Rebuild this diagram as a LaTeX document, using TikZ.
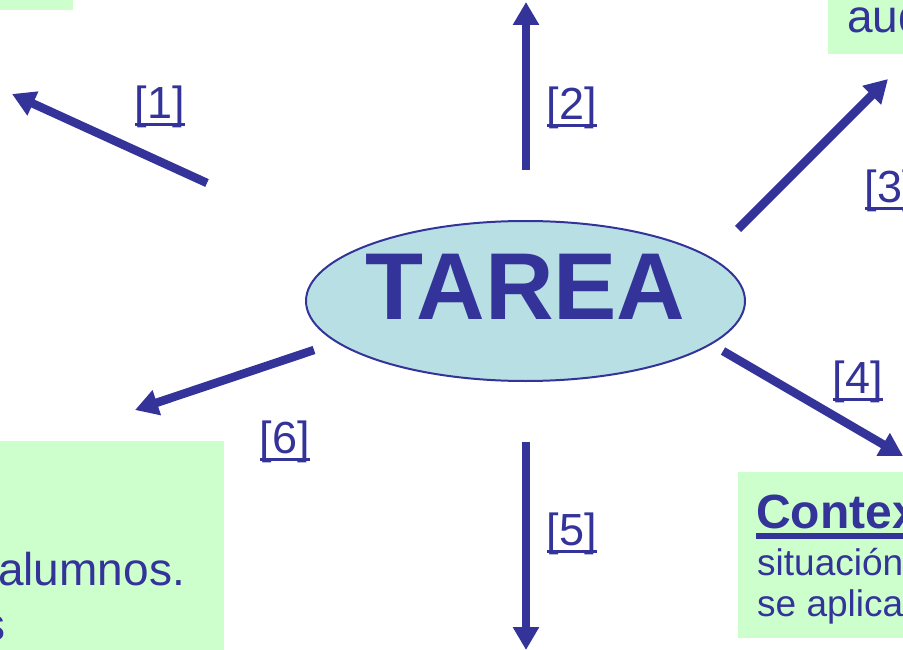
\documentclass[tikz,border=0pt]{standalone}
\usepackage{fontspec}
\setmainfont{Liberation Sans}
\usepackage{tikz}
\usetikzlibrary{shapes.geometric,arrows.meta,positioning}
\definecolor{tblue}{RGB}{51,51,153}
\definecolor{tcyan}{RGB}{184,224,228}
\definecolor{tgreen}{RGB}{204,255,204}
\newcommand{\lblul}[3]{\setbox0\hbox{#1}\rlap{\rule[-#2]{\wd0}{#3}}\box0}
\begin{document}
\begin{tikzpicture}[x=1pt, y=-1pt, arr/.style={tblue, line width=8.5pt, -{Triangle[width=25pt,length=23pt]}}, lbl/.style={anchor=base, text=tblue, inner sep=0pt, font=\fontsize{45}{54}\selectfont}, txt/.style={anchor=base west, text=tblue, inner sep=0pt}]
\clip (0,0) rectangle (903,650);
\fill[tgreen] (0,0) rectangle (73,10);
\fill[tgreen] (828,0) rectangle (903,54);
\fill[tgreen] (0,441) rectangle (224,650);
\fill[tgreen] (738,472) rectangle (903,638);
\node[txt, font=\fontsize{46}{55}\selectfont] (aud) at (847,33) {aud};
\node[txt, font=\fontsize{46}{55}\selectfont] (alum) at (-2,585) {alumnos.};
\node[anchor=base east, text=tblue, inner sep=0pt, font=\fontsize{46}{55}\selectfont] (alum2) at (6,640) {s};
\node[txt, font=\bfseries\fontsize{48}{56}\selectfont] (ctx) at (756,528) {\lblul{Contex}{11pt}{6pt}};
\node[txt, font=\fontsize{37}{41}\selectfont] (sit) at (757,575) {situación};
\node[txt, font=\fontsize{37}{41}\selectfont] (apl) at (757,616) {se aplica};
\node[ellipse, draw=tblue, line width=2pt, fill=tcyan, minimum width=439pt, minimum height=160pt, inner sep=0pt] (tarea) at (525.5,301) {};
\node[anchor=base, text=tblue, inner sep=0pt, font=\bfseries\fontsize{95}{110}\selectfont] (tareatxt) at (525.5,319) {TAREA};
\coordinate (s1) at (207,183); \coordinate (e1) at (12,94);
\coordinate (s2) at (526,170); \coordinate (e2) at (526,2);
\coordinate (s3) at (738,229); \coordinate (e3) at (888,79);
\coordinate (s4) at (723,351); \coordinate (e4) at (903,456);
\coordinate (s5) at (526,442); \coordinate (e5) at (526,650);
\coordinate (s6) at (314,350); \coordinate (e6) at (135,410);
\foreach \i in {1,...,6}{\draw[arr] (s\i) -- (e\i);}
\foreach \i/\x/\y in {1/160/119, 2/572/120, 3/890/203, 4/858/393, 5/572/545, 6/285/453}
  {\path (\x,\y) node[lbl] (lbl\i) {\lblul{[\i]}{7.5pt}{3pt}};}
\end{tikzpicture}
\end{document}
